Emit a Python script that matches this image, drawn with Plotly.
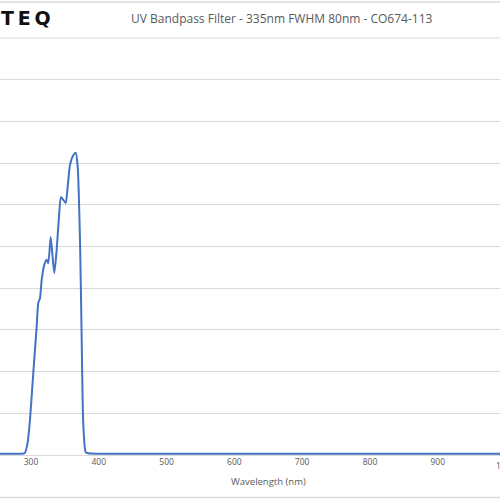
import plotly.graph_objects as go

# Wavelength (nm) and transmission (%)
wavelength = [200, 250, 285, 291, 295, 298.5, 303.4, 308.4, 310.8, 313.3, 315.8, 319.6,
              323.2, 325.5, 329, 331.4, 334.4, 337.9, 341.3, 344.2, 347.6, 351.2,
              354.1, 357.5, 362.4, 366, 368.9, 372.3, 374.8, 377.1, 380.7, 384.5,
              400, 500, 600, 700, 800, 900, 1000, 1100]
transmission = [0.3, 0.3, 0.3, 0.5, 2.9, 8.4, 19.7, 30.8, 36.5, 37.6, 42.0, 45.6,
                46.8, 46.0, 52.3, 48.4, 43.6, 49.2, 57.1, 61.9, 61.2, 60.4,
                64.3, 69.5, 71.9, 72.5, 69.1, 51.6, 27.6, 7.7, 0.7, 0.4,
                0.3, 0.3, 0.3, 0.3, 0.3, 0.3, 0.3, 0.3]

x_ticks = [300, 400, 500, 600, 700, 800, 900, 1000]
title_text = "UV Bandpass Filter - 335nm FWHM 80nm - CO674-113"
x_title = "Wavelength (nm)"
logo_text = "T\u2009E\u2009Q"

x_range = [254.3, 991.8]
y_range = [0, 100]

grey_text = "#595959"
grid = "#D9D9D9"

fig = go.Figure()
fig.add_trace(go.Scatter(
    x=wavelength, y=transmission, mode="lines",
    line=dict(color="#4472C4", width=2, shape="spline", smoothing=0.6),
    hoverinfo="skip", showlegend=False,
))

fig.update_layout(
    width=500, height=500,
    margin=dict(l=0, r=0, t=37.5, b=45, autoexpand=False),
    paper_bgcolor="white", plot_bgcolor="white",
    font=dict(family="Open Sans", color=grey_text),
    xaxis=dict(
        range=x_range, tickvals=x_ticks, ticktext=[str(v) for v in x_ticks],
        showgrid=False, zeroline=False, showline=False, ticks="",
        tickfont=dict(family="Open Sans", size=8.5, color=grey_text),
        automargin=False,
    ),
    yaxis=dict(
        range=y_range, dtick=10, showgrid=True, gridcolor=grid, gridwidth=1,
        zeroline=True, zerolinecolor=grid, zerolinewidth=1,
        showticklabels=False, ticks="", showline=False, automargin=False,
    ),
    shapes=[
        dict(type="line", xref="paper", yref="paper", x0=0, x1=1, y0=1.0862, y1=1.0862,
             line=dict(color=grid, width=1.5)),
        dict(type="line", xref="paper", yref="paper", x0=0, x1=1, y0=-0.1018, y1=-0.1018,
             line=dict(color=grid, width=1.5)),
        dict(type="line", xref="paper", yref="paper", x0=0, x1=1, y0=1, y1=1,
             line=dict(color=grid, width=1)),
    ],
    annotations=[
        dict(text=title_text, xref="paper", yref="paper", x=0.564, y=1.047,
             xanchor="center", yanchor="middle", showarrow=False,
             font=dict(family="Open Sans", size=12, color=grey_text)),
        dict(text=x_title, xref="paper", yref="paper", x=0.537, y=-0.063,
             xanchor="center", yanchor="middle", showarrow=False,
             font=dict(family="Open Sans", size=9.5, color=grey_text)),
        dict(text="<b>" + logo_text + "</b>", xref="paper", yref="paper", x=0.105, y=1.047,
             xanchor="right", yanchor="middle", showarrow=False,
             font=dict(family="DejaVu Sans", size=19, color="#111111")),
        dict(text="1000", xref="paper", yref="paper",
             x=(1000 - x_range[0]) / (x_range[1] - x_range[0]), y=-0.024,
             xanchor="center", yanchor="middle", showarrow=False,
             font=dict(family="Open Sans", size=8.5, color=grey_text)),
    ],
)

fig.write_html("out.html", config={"displayModeBar": False},
               post_script="document.body.style.margin='0';document.body.style.overflow='hidden';")
